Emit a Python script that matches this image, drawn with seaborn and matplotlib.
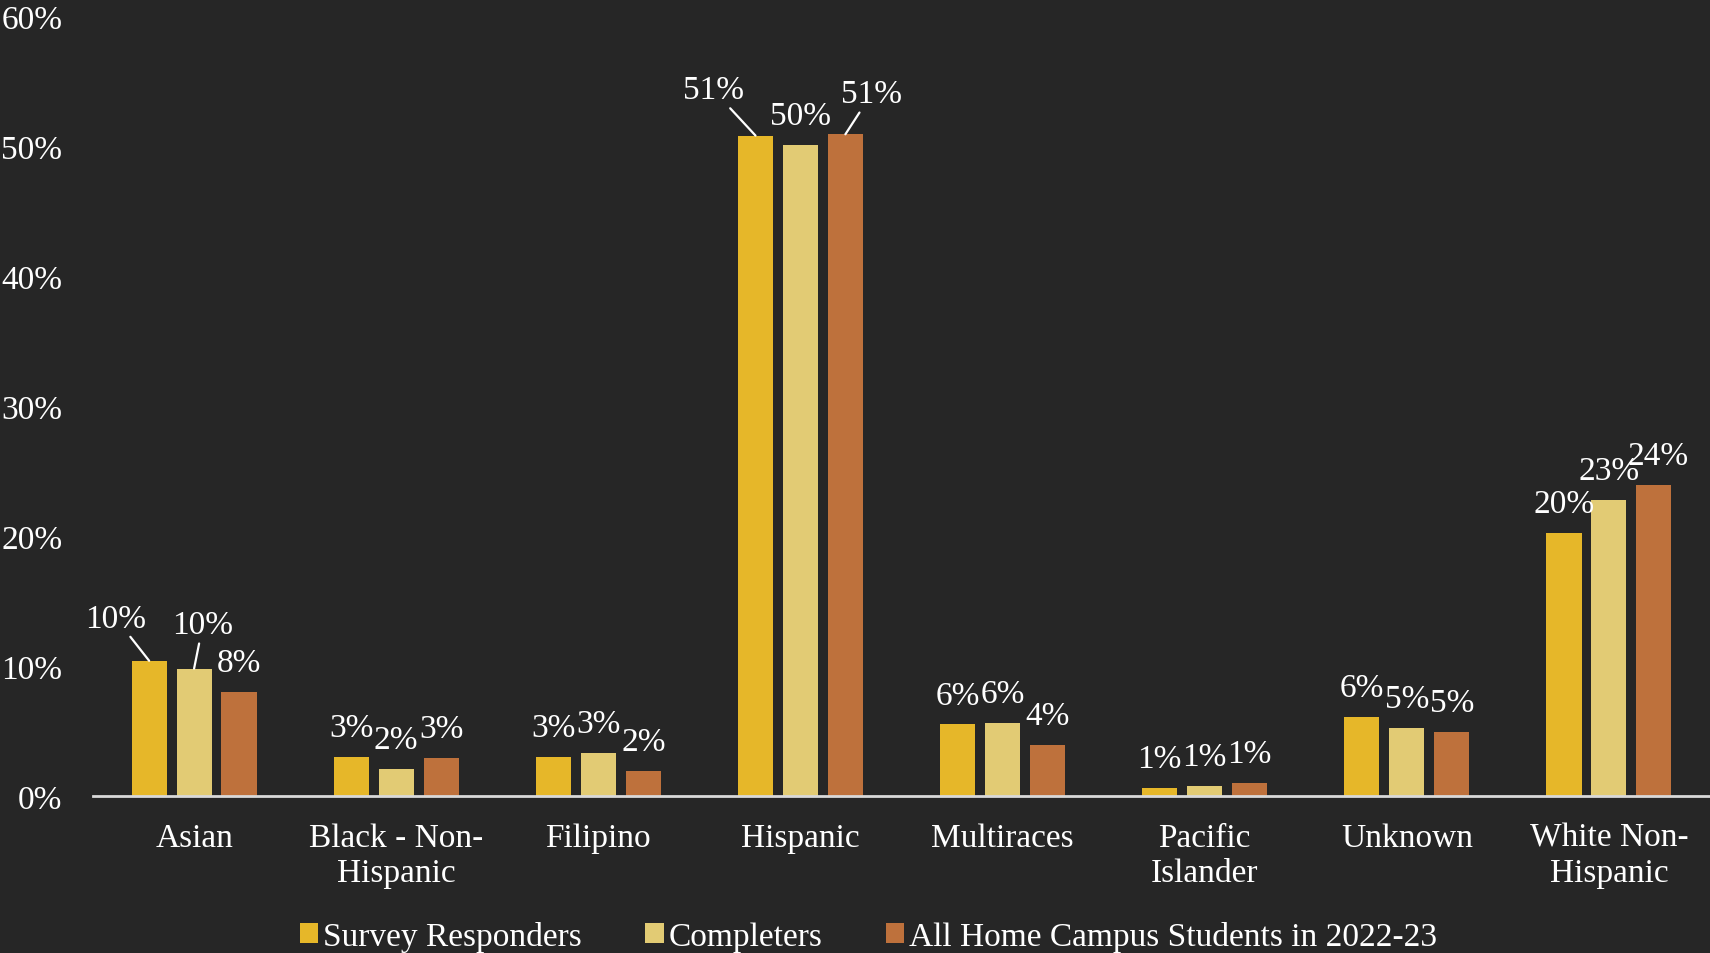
import pandas as pd
import matplotlib
matplotlib.use("Agg")
import matplotlib.pyplot as plt
import seaborn as sns

# dados
categorias = ["Asian", "Black - Non-\nHispanic", "Filipino", "Hispanic",
              "Multiraces", "Pacific\nIslander", "Unknown", "White Non-\nHispanic"]
series = ["Survey Responders", "Completers", "All Home Campus Students in 2022-23"]
survey = [10.4, 3.0, 3.0, 50.8, 5.5, 0.6, 6.1, 20.2]
completers = [9.8, 2.1, 3.3, 50.1, 5.6, 0.75, 5.2, 22.8]
all_students = [8.0, 2.9, 1.9, 50.9, 3.9, 1.0, 4.9, 23.9]
y_ticks = [0, 10, 20, 30, 40, 50, 60]
cores = ["#E6B729", "#E2CB74", "#BE713C"]

df = pd.DataFrame({
    "Categoria": categorias * 3,
    "Serie": [series[0]] * 8 + [series[1]] * 8 + [series[2]] * 8,
    "Valor": survey + completers + all_students,
})

bg = "#262626"
fs = 24
sns.set_theme(style="dark")
plt.rcParams["font.family"] = ["Liberation Serif", "DejaVu Serif"]

fig = plt.figure(figsize=(17.1, 9.54), dpi=100, facecolor=bg)
ax = fig.add_axes([0.0544, 0.1646, 0.9456, 0.8176])
ax.set_facecolor(bg)

sns.barplot(data=df, x="Categoria", y="Valor", hue="Serie", palette=cores,
            width=0.667, gap=0.22, saturation=1, linewidth=0, ax=ax, legend=True)

ax.set_xlim(-0.5, 7.5)
ax.set_ylim(0, 60)
ax.set_yticks(y_ticks)
ax.set_yticklabels([f"{v}%" for v in y_ticks])
ax.set_xlabel("")
ax.set_ylabel("")
for s in ["top", "right", "left"]:
    ax.spines[s].set_visible(False)
ax.spines["bottom"].set_color("#d9d9d9")
ax.spines["bottom"].set_linewidth(2)
ax.tick_params(axis="y", length=0, pad=22, labelsize=fs, labelcolor="white")
ax.tick_params(axis="x", length=0, pad=19, labelsize=fs, labelcolor="white")
for t in ax.get_xticklabels():
    t.set_linespacing(1.2)
ax.grid(False)

# rotulos dos valores
deslocamentos = {(0, 0): (-24, 30.6), (1, 0): (6.3, 31.4),
                 (0, 3): (-30.6, 33), (2, 3): (18.8, 29)}
valores = [survey, completers, all_students]
for i, cont in enumerate(ax.containers):
    for j, bar in enumerate(cont):
        x = bar.get_x() + bar.get_width() / 2
        h = bar.get_height()
        txt = f"{int(valores[i][j] + 0.5)}%"
        if (i, j) in deslocamentos:
            dx, dy = deslocamentos[(i, j)]
            ax.annotate(txt, xy=(x, h), xytext=(dx, dy), textcoords="offset points",
                        ha="center", va="center", color="white", fontsize=fs,
                        arrowprops=dict(arrowstyle="-", color="white", lw=1.6,
                                        shrinkA=0, shrinkB=0))
        else:
            dx = 3 if (i, j) == (2, 7) else 0
            ax.annotate(txt, xy=(x, h), xytext=(dx, 21), textcoords="offset points",
                        ha="center", va="center", color="white", fontsize=fs)

handles, labels = ax.get_legend_handles_labels()
ax.get_legend().remove()
leg = fig.legend(handles, labels, loc="lower center", bbox_to_anchor=(0.508, -0.03),
                 ncol=3, frameon=False, fontsize=fs, handlelength=0.55,
                 handleheight=0.55, handletextpad=0.15, columnspacing=1.9)
for t in leg.get_texts():
    t.set_color("white")

fig.savefig("out.png", dpi=100, facecolor=bg)
